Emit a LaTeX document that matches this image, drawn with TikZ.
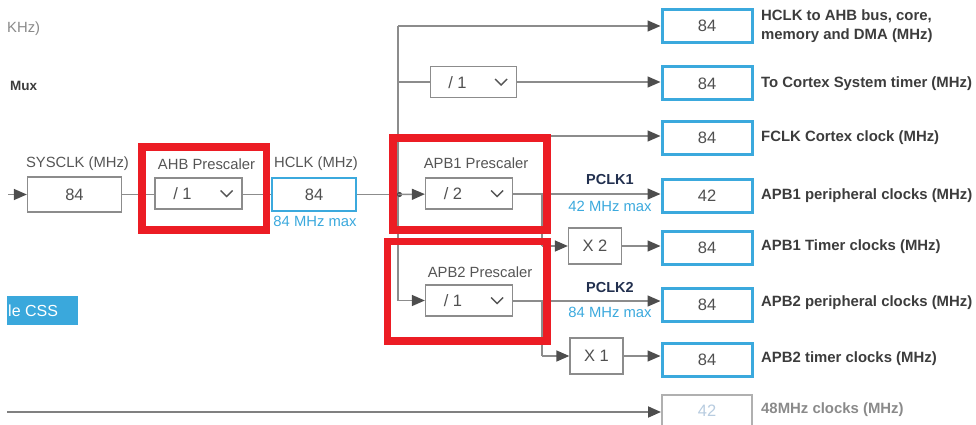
\documentclass[tikz,border=0pt]{standalone}
\usepackage{fontspec}
\setmainfont{Liberation Sans}
\usetikzlibrary{arrows.meta,calc}
\definecolor{linegray}{HTML}{8C8C8C}
\definecolor{arrowgray}{HTML}{4D4D4D}
\definecolor{textgray}{HTML}{555555}
\definecolor{labeldark}{HTML}{3C3C3C}
\definecolor{numgray}{HTML}{505050}
\definecolor{boxblue}{HTML}{3BA9DD}
\definecolor{maxblue}{HTML}{3BA9DD}
\definecolor{hired}{HTML}{EC1C24}
\definecolor{navy}{HTML}{22304F}
\definecolor{fadegray}{HTML}{B0B0B0}
\definecolor{fadetext}{HTML}{B8CCE0}
\definecolor{fadelabel}{HTML}{8A8A8A}
\definecolor{cssblue}{HTML}{3AA8DC}
\begin{document}
\begin{tikzpicture}[x=1pt,y=-1pt,
  txt/.style={font=\fontsize{14.8}{17}\selectfont, text=textgray, inner sep=0},
  lbl/.style={font=\fontsize{14.9}{17}\selectfont\bfseries, text=labeldark, anchor=west, inner sep=0},
  valbox/.style={draw=boxblue, line width=3, minimum width=90, minimum height=33, fill=white,
    font=\fontsize{16.5}{18}\selectfont, text=numgray, inner sep=0},
  graybox/.style={draw=linegray, line width=1.3, minimum width=94, minimum height=35, fill=white,
    font=\fontsize{16.5}{18}\selectfont, text=numgray, inner sep=0},
  dropbox/.style={draw=linegray, line width=1.3, minimum width=87, minimum height=31, fill=white, inner sep=0},
  droptext/.style={font=\fontsize{16.5}{18}\selectfont, text=numgray, inner sep=0},
  mulbox/.style={draw=linegray, line width=1.3, minimum width=53, minimum height=36, fill=white,
    font=\fontsize{16.5}{18}\selectfont, text=numgray, inner sep=0},
  conn/.style={draw=linegray, line width=1.4},
  arr/.style={conn, -{Triangle[length=13, width=11, color=arrowgray]}},
  redbox/.style={draw=hired, line width=7.5},
  chev/.style={draw=textgray, line width=1.3}
]
\useasboundingbox (0,0) rectangle (976,425);
\clip (0,0) rectangle (976,425);

% left texts
\node[txt, text=fadelabel, anchor=west] (khz) at (7,29) {KHz)};
\node[lbl, font=\fontsize{13.5}{15}\selectfont\bfseries] (mux) at (10,86) {Mux};
\node[fill=cssblue, minimum width=71, minimum height=29, inner sep=0] (css) at (42.5,310.5) {};
\node[txt, text=white, anchor=west, font=\fontsize{16}{18}\selectfont] (csstxt) at (8,311) {le CSS};

% SYSCLK / AHB / HCLK
\node[txt] (syslbl) at (77.5,164) {SYSCLK (MHz)};
\node[graybox] (sys) at (74.5,194.5) {84};
\node[txt] (ahblbl) at (206.5,164) {AHB Prescaler};
\node[dropbox] (ahb) at (198.5,193.5) {};
\node[droptext] (ahbt) at (182.5,194) {/ 1};
\draw[chev] ($(ahb.east)+(-22,-3)$) -- ++(6,6) -- ++(6,-6);
\node[txt] (hclklbl) at (316,164) {HCLK (MHz)};
\node[draw=boxblue, line width=2.5, minimum width=84, minimum height=33, fill=white,
  font=\fontsize{16.5}{18}\selectfont, text=numgray, inner sep=0] (hclk) at (314,194.5) {84};
\node[txt, text=maxblue] (hmax) at (315,221) {84 MHz max};

% middle row elements
\node[dropbox, minimum width=86] (div) at (473.5,82) {};
\node[droptext] (divt) at (457.5,83) {/ 1};
\draw[chev] ($(div.east)+(-22,-3)$) -- ++(6,6) -- ++(6,-6);

\node[txt] (apb1lbl) at (476,163) {APB1 Prescaler};
\node[dropbox] (apb1) at (469,193.5) {};
\node[droptext] (apb1t) at (453,194) {/ 2};
\draw[chev] ($(apb1.east)+(-22,-3)$) -- ++(6,6) -- ++(6,-6);

\node[txt] (apb2lbl) at (480,272) {APB2 Prescaler};
\node[dropbox] (apb2) at (469,300.5) {};
\node[droptext] (apb2t) at (453,301) {/ 1};
\draw[chev] ($(apb2.east)+(-22,-3)$) -- ++(6,6) -- ++(6,-6);

\node[mulbox] (x2) at (595,246) {X 2};
\node[mulbox] (x1) at (596.5,356) {X 1};

\node[txt, font=\fontsize{14.5}{16}\selectfont\bfseries, text=navy] (pclk1) at (610,180) {PCLK1};
\node[txt, text=maxblue] (p1max) at (610,206) {42 MHz max};
\node[txt, font=\fontsize{14.5}{16}\selectfont\bfseries, text=navy] (pclk2) at (610,288) {PCLK2};
\node[txt, text=maxblue] (p2max) at (610,312) {84 MHz max};

% outputs
\node[valbox] (o1) at (707,26) {84};
\node[valbox] (o2) at (707,83.5) {84};
\node[valbox] (o3) at (707,138) {84};
\node[valbox] (o4) at (707,195.5) {42};
\node[valbox] (o5) at (707,248) {84};
\node[valbox] (o6) at (707,305) {84};
\node[valbox] (o7) at (707,360) {84};
\node[valbox, draw=fadegray, line width=2, text=fadetext] (o8) at (707,411) {42};

\node[lbl, align=left, font=\fontsize{14.9}{19.5}\selectfont\bfseries] (l1) at (761,26) {HCLK to AHB bus, core,\\memory and DMA (MHz)};
\node[lbl] (l2) at (761,84) {To Cortex System timer (MHz)};
\node[lbl] (l3) at (761,138) {FCLK Cortex clock (MHz)};
\node[lbl] (l4) at (761,196) {APB1 peripheral clocks (MHz)};
\node[lbl] (l5) at (761,247) {APB1 Timer clocks (MHz)};
\node[lbl] (l6) at (761,303) {APB2 peripheral clocks (MHz)};
\node[lbl] (l7) at (761,359) {APB2 timer clocks (MHz)};
\node[lbl, text=fadelabel] (l8) at (761,410) {48MHz clocks (MHz)};

% coordinates
\coordinate (in) at (8,194.5);
\coordinate (j) at (398,194.5);
\coordinate (j1) at (398,26);
\coordinate (j2) at (398,82);
\coordinate (j3) at (398,136);
\coordinate (j5) at (398,300.5);
\coordinate (b1) at (542,194);
\coordinate (b2) at (542,301);
\coordinate (bl) at (7,412);

% connectors
\draw[arr] (in) -- (sys);
\draw[conn] (sys) -- (ahb.west |- sys);
\draw[conn] (ahb.east |- hclk) -- (hclk);
\draw[conn] (hclk) -- (j);
\draw[conn] (j1) -- (j5);
\draw[arr] (j1) -- (o1);
\draw[conn] (j2) -- (div);
\draw[arr] (div.east) -- (div.east -| o2.west);
\draw[arr] (j3) -- (j3 -| o3.west);
\fill[arrowgray] (j) ++(1.5,0) circle (2.6);
\draw[arr] (j) -- (apb1);
\draw[arr] (apb1.east |- b1) -- (b1 -| o4.west);
\draw[conn] (b1) -- (b1 |- x2);
\draw[arr] (b1 |- x2) -- (x2);
\draw[arr] (x2) -- (x2 -| o5.west);
\draw[arr] (j5) -- (apb2);
\draw[arr] (apb2.east |- b2) -- (b2 -| o6.west);
\draw[conn] (b2) -- (b2 |- x1);
\draw[arr] (b2 |- x1) -- (x1);
\draw[arr] (x1) -- (x1 -| o7.west);
\draw[arr, line width=1.8, draw=gray] (bl) -- (bl -| o8.west);

% red highlight boxes
\draw[redbox] (142,147) rectangle (266.5,230);
\draw[redbox] (393,138) rectangle (547,230);
\draw[redbox] (387.5,241.5) rectangle (547,341);
\end{tikzpicture}
\end{document}
